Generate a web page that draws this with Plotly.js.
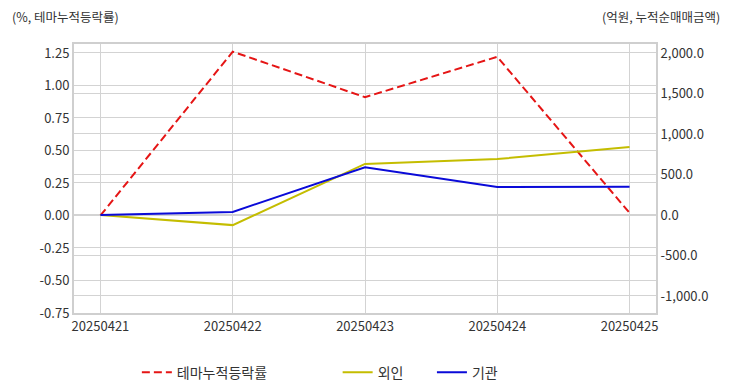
<!DOCTYPE html>
<html>
<head>
<meta charset="utf-8">
<script src="https://cdn.plot.ly/plotly-3.0.1.min.js"></script>
<style>html,body{margin:0;padding:0;background:#fff;}#chart{width:732px;height:392px;}</style>
</head>
<body>
<div id="chart"></div>
<script>
const dates = ["20250421", "20250422", "20250423", "20250424", "20250425"];
const themeRate = [0.00, 1.26, 0.91, 1.22, 0.02];
const foreign = [0, -125, 630, 690, 840];
const institution = [0, 38, 590, 345, 350];

const leftTickVals = [-0.75, -0.5, -0.25, 0, 0.25, 0.5, 0.75, 1.0, 1.25];
const leftTickText = ["-0.75", "-0.50", "-0.25", "0.00", "0.25", "0.50", "0.75", "1.00", "1.25"];
const rightTickVals = [-1000, -500, 0, 500, 1000, 1500, 2000];
const rightTickText = ["-1,000.0", "-500.0", "0.0", "500.0", "1,000.0", "1,500.0", "2,000.0"];

const FONT = "'Noto Sans CJK KR', 'Noto Sans', sans-serif";

const traces = [
  {x: dates, y: themeRate, name: "테마누적등락률", type: "scatter", mode: "lines",
   line: {color: "#e51515", width: 2, dash: "8px,4px"}, yaxis: "y", legend: "legend"},
  {x: dates, y: foreign, name: "외인", type: "scatter", mode: "lines",
   line: {color: "#c4bd00", width: 2}, yaxis: "y2", legend: "legend2"},
  {x: dates, y: institution, name: "기관", type: "scatter", mode: "lines",
   line: {color: "#0a0ad8", width: 2}, yaxis: "y2", legend: "legend3"}
];

const legendBase = {orientation: "h", yanchor: "middle", y: -0.222, xanchor: "left",
  font: {family: FONT, size: 14, color: "#333"}, bgcolor: "rgba(0,0,0,0)"};

const tf = {family: FONT, size: 13, color: "#333"};

const layout = {
  width: 732, height: 392,
  margin: {l: 74, r: 76, t: 44, b: 79, autoexpand: false},
  paper_bgcolor: "#fff", plot_bgcolor: "#fff",
  font: {family: FONT, size: 12, color: "#444"},
  showlegend: true,
  xaxis: {type: "category", range: [-0.2, 4.2], showgrid: true, gridcolor: "#d3d3d3", gridwidth: 1,
    showline: true, linecolor: "#cfcfcf", linewidth: 2, mirror: true, zeroline: false,
    ticks: "", tickfont: tf, automargin: false},
  yaxis: {range: [-0.75, 1.319], tickmode: "array", tickvals: leftTickVals, ticktext: leftTickText,
    showgrid: true, gridcolor: "#d3d3d3", zeroline: false, showline: true, linecolor: "#cfcfcf", linewidth: 2,
    ticks: "", tickfont: tf, automargin: false},
  yaxis2: {overlaying: "y", side: "right", range: [-1210, 2111], tickmode: "array",
    tickvals: rightTickVals, ticktext: rightTickText, showgrid: true, gridcolor: "#d3d3d3",
    zeroline: false, showline: true, linecolor: "#cfcfcf", linewidth: 2, ticks: "",
    tickfont: tf, automargin: false},
  legend: Object.assign({}, legendBase, {x: 0.108}),
  legend2: Object.assign({}, legendBase, {x: 0.453}),
  legend3: Object.assign({}, legendBase, {x: 0.615}),
  annotations: [
    {xref: "paper", yref: "paper", x: -0.11, y: 1.104, xanchor: "left", yanchor: "middle",
     text: "(%, 테마누적등락률)", showarrow: false, font: {family: FONT, size: 12.5, color: "#333"}},
    {xref: "paper", yref: "paper", x: 1.1134, y: 1.104, xanchor: "right", yanchor: "middle",
     text: "(억원, 누적순매매금액)", showarrow: false, font: {family: FONT, size: 12.5, color: "#333"}}
  ]
};

Plotly.newPlot("chart", traces, layout, {displayModeBar: false, staticPlot: true});
</script>
</body>
</html>
